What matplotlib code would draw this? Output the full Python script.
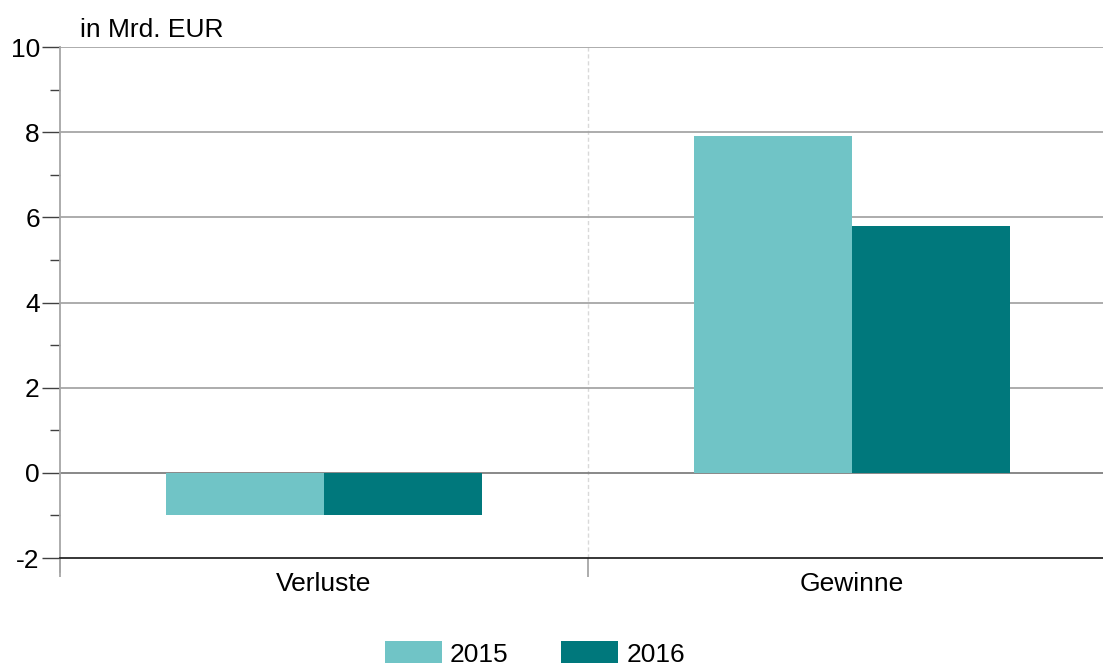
import matplotlib.pyplot as plt
import numpy as np

plt.rcParams['font.family'] = ['Liberation Sans', 'DejaVu Sans']
plt.rcParams['axes.unicode_minus'] = False

categories = ['Verluste', 'Gewinne']
years = ['2015', '2016']
values_2015 = [-1.0, 7.9]
values_2016 = [-1.0, 5.8]
colors = ['#70C4C6', '#00787C']
yticks = [-2, 0, 2, 4, 6, 8, 10]

fig = plt.figure(figsize=(11.03, 6.66), dpi=100)
ax = fig.add_axes([60/1103, 1-558/666, (1116-60)/1103, (558-47)/666])

x = np.arange(len(categories)) + 0.5
w = 0.3
ax.bar(x - w/2, values_2015, w, color=colors[0], label=years[0], zorder=3)
ax.bar(x + w/2, values_2016, w, color=colors[1], label=years[1], zorder=3)

ax.set_xlim(0, 2)
ax.set_ylim(-2, 10)

# horizontal grid
for v in yticks:
    if v == -2:
        continue
    c = '#7f7f7f' if v == 0 else '#a6a6a6'
    ax.axhline(v, color=c, lw=1.3, zorder=2)
# category separator
ax.axvline(1, color='#d9d9d9', lw=1, ls=(0, (3, 2)), zorder=1)

ax.set_yticks(yticks)
ax.set_yticks([-1, 1, 3, 5, 7, 9], minor=True)
ax.tick_params(axis='y', which='major', length=13, width=1, color='#404040',
               labelsize=19, pad=1.5)
ax.tick_params(axis='y', which='minor', length=7, width=1, color='#404040')

ax.set_xticks([0, 1, 2])
ax.set_xticklabels([])
ax.set_xticks(x, minor=True)
ax.set_xticklabels(categories, minor=True)
ax.tick_params(axis='x', which='major', length=14, width=1.3, color='#a6a6a6')
ax.tick_params(axis='x', which='minor', length=0, labelsize=19, pad=10)

ax.spines['top'].set_visible(False)
ax.spines['right'].set_visible(False)
ax.spines['left'].set_color('#a6a6a6')
ax.spines['left'].set_linewidth(1.3)
ax.spines['left'].set_bounds(-2.33, 10)
ax.spines['bottom'].set_color('#262626')
ax.spines['bottom'].set_linewidth(1.3)

fig.text(80/1103, 1-30/666, 'in Mrd. EUR', fontsize=19, ha='left', va='center')

fig.legend(loc='center', bbox_to_anchor=(535/1103, 1-654/666), ncol=2,
           frameon=False, fontsize=19, handlelength=2.16, handleheight=0.9,
           handletextpad=0.3, columnspacing=2.0)

fig.savefig('out.png', dpi=100)
plt.close(fig)
